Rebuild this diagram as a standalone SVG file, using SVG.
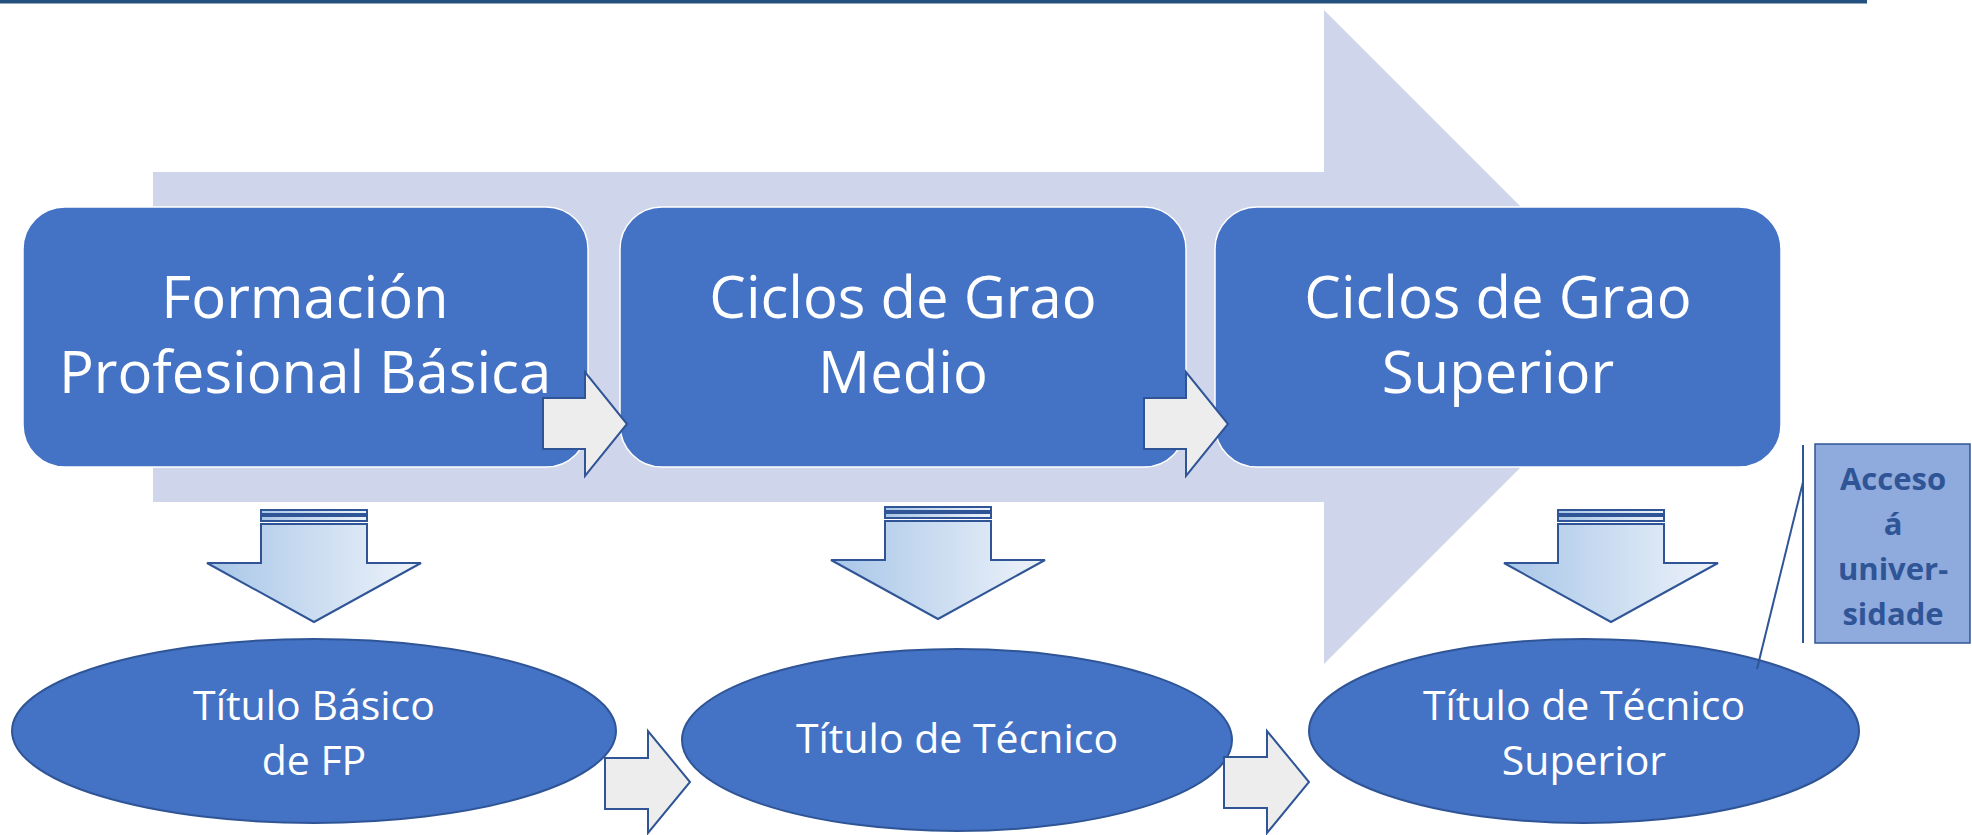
<svg xmlns="http://www.w3.org/2000/svg" width="1972" height="835" viewBox="0 0 1972 835">
<defs>
<linearGradient id="dg" x1="0" y1="0" x2="1" y2="0">
<stop offset="0" stop-color="#a8c6e8"/>
<stop offset="1" stop-color="#eef3fa"/>
</linearGradient>
<style>
.box{fill:#4472c4;stroke:#ffffff;stroke-width:1.5}
.ell{fill:#4472c4;stroke:#2f5597;stroke-width:2}
.bt{font-family:"Open Sans","Liberation Sans",sans-serif;font-size:58px;fill:#ffffff;text-anchor:middle}
.et{font-family:"Open Sans","Liberation Sans",sans-serif;font-size:41px;fill:#ffffff;text-anchor:middle}
.ra{fill:#ededed;stroke:#2f5597;stroke-width:2;stroke-linejoin:miter}
.da{fill:url(#dg);stroke:#2f5597;stroke-width:2}
.at{font-family:"Open Sans","Liberation Sans",sans-serif;font-size:31px;font-weight:bold;fill:#2f5597;text-anchor:middle}
</style>
</defs>
<rect x="0" y="0" width="1867" height="3.5" fill="#24507f"/>
<polygon id="bigarrow" points="153,172 1324,172 1324,10 1651,337 1324,664 1324,502 153,502" fill="#cfd5ea"/>
<g id="box1"><rect class="box" x="23" y="207" width="565" height="260" rx="42"/>
<text class="bt" x="305" y="318">Formación</text><text class="bt" x="305" y="393">Profesional Básica</text></g>
<g id="box2"><rect class="box" x="620" y="207" width="566" height="260" rx="42"/>
<text class="bt" x="903" y="318">Ciclos de Grao</text><text class="bt" x="903" y="393">Medio</text></g>
<g id="box3"><rect class="box" x="1215" y="207" width="566" height="260" rx="42"/>
<text class="bt" x="1498" y="318">Ciclos de Grao</text><text class="bt" x="1498" y="393">Superior</text></g>
<g id="ell1"><ellipse class="ell" cx="314" cy="731" rx="302" ry="92"/>
<text class="et" x="314" y="720">Título Básico</text><text class="et" x="314" y="775">de FP</text></g>
<g id="ell2"><ellipse class="ell" cx="957" cy="740" rx="275" ry="91"/>
<text class="et" x="957" y="753">Título de Técnico</text></g>
<g id="ell3"><ellipse class="ell" cx="1584" cy="731" rx="275" ry="92"/>
<text class="et" x="1584" y="720">Título de Técnico</text><text class="et" x="1584" y="775">Superior</text></g>
<g id="acceso"><rect x="1815" y="444" width="155" height="199" fill="#8faadc" stroke="#2f5597" stroke-width="1.5"/>
<text class="at" x="1893" y="490">Acceso</text><text class="at" x="1893" y="535">á</text><text class="at" x="1893" y="580">univer-</text><text class="at" x="1893" y="625">sidade</text></g>
<g id="connectors">
<polygon class="ra" points="543,398 585,398 585,372 627,424 585,476 585,449 543,449"/>
<polygon class="ra" points="1144,398 1186,398 1186,372 1228,424 1186,476 1186,449 1144,449"/>
<polygon class="ra" points="605,758 648,758 648,731 690,782 648,833 648,809 605,809"/>
<polygon class="ra" points="1224,757 1267,757 1267,731 1309,782 1267,833 1267,808 1224,808"/>
<g transform="translate(314,0)">
<rect class="da" x="-53" y="510" width="106" height="4"/><rect class="da" x="-53" y="516" width="106" height="5"/>
<polygon class="da" points="-53,524 53,524 53,563 107,563 0,622 -107,563 -53,563"/></g>
<g transform="translate(938,-3)">
<rect class="da" x="-53" y="510" width="106" height="4"/><rect class="da" x="-53" y="516" width="106" height="5"/>
<polygon class="da" points="-53,524 53,524 53,563 107,563 0,622 -107,563 -53,563"/></g>
<g transform="translate(1611,0)">
<rect class="da" x="-53" y="510" width="106" height="4"/><rect class="da" x="-53" y="516" width="106" height="5"/>
<polygon class="da" points="-53,524 53,524 53,563 107,563 0,622 -107,563 -53,563"/></g>
<line x1="1803" y1="445" x2="1803" y2="643" stroke="#2f5597" stroke-width="2"/>
<line x1="1803" y1="482" x2="1757" y2="669" stroke="#2f5597" stroke-width="2"/>
</g>
</svg>
